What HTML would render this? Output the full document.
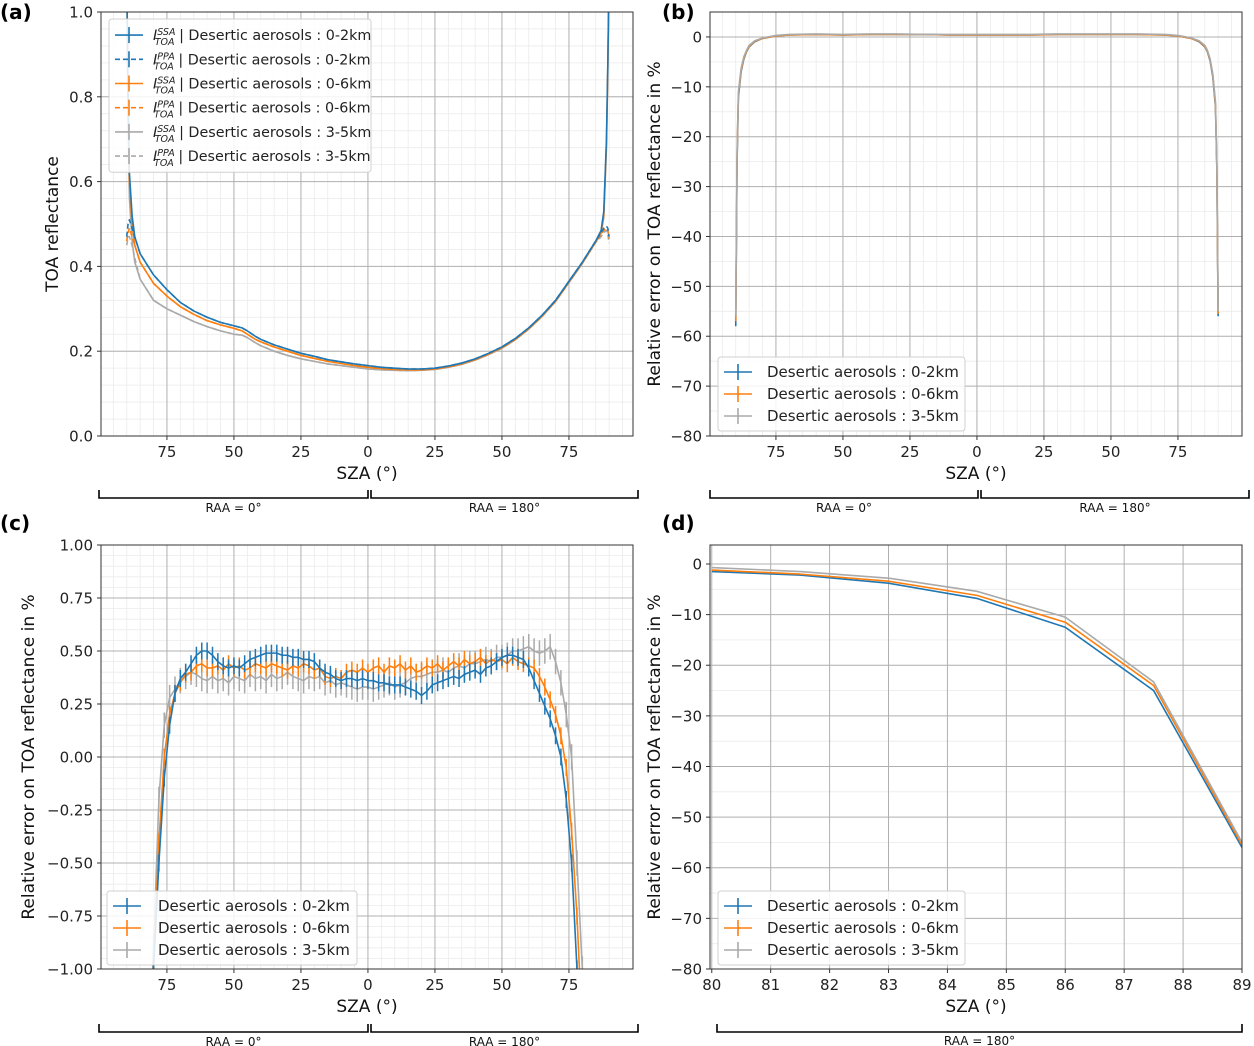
<!DOCTYPE html>
<html><head><meta charset="utf-8"><style>
body{margin:0;background:#fff;overflow:hidden}
svg{display:block;font-family:"DejaVu Sans","Liberation Sans",sans-serif}
</style></head><body>
<svg id="fig" width="1254" height="1046" viewBox="0 0 1254 1046"></svg>
<script>
// ---------- data ----------
const aSza = [-90,-89.5,-89,-88,-87,-85,-82,-80,-75,-70,-65,-60,-55,-50,-47,-45,-42,-40,-35,-30,-25,-20,-15,-10,-5,0,5,10,15,20,25,30,35,40,45,50,55,60,65,70,75,80,83,85,87,88,89,89.5,90];
const aSsa02 = [1.10,0.80,0.62,0.52,0.47,0.43,0.40,0.38,0.345,0.315,0.295,0.28,0.268,0.26,0.255,0.248,0.235,0.228,0.215,0.205,0.195,0.188,0.18,0.175,0.17,0.166,0.162,0.16,0.158,0.158,0.16,0.165,0.172,0.182,0.195,0.21,0.23,0.255,0.285,0.32,0.365,0.41,0.44,0.46,0.485,0.53,0.70,0.88,1.10];
const aPpa02 = [0.47,0.50,0.51,0.49,0.47,0.43,0.40,0.38,0.345,0.315,0.295,0.28,0.268,0.26,0.255,0.248,0.235,0.228,0.215,0.205,0.195,0.188,0.18,0.175,0.17,0.166,0.162,0.16,0.158,0.158,0.16,0.165,0.172,0.182,0.195,0.21,0.23,0.255,0.285,0.32,0.365,0.41,0.44,0.46,0.48,0.49,0.495,0.49,0.47];
const aSsa06 = [1.10,0.78,0.60,0.50,0.45,0.41,0.38,0.36,0.33,0.305,0.287,0.272,0.262,0.254,0.248,0.24,0.228,0.222,0.21,0.2,0.19,0.183,0.176,0.171,0.166,0.162,0.159,0.157,0.156,0.156,0.158,0.163,0.17,0.18,0.193,0.208,0.228,0.253,0.283,0.318,0.363,0.408,0.438,0.458,0.48,0.52,0.69,0.87,1.10];
const aPpa06 = [0.46,0.48,0.49,0.47,0.45,0.41,0.38,0.36,0.33,0.305,0.287,0.272,0.262,0.254,0.248,0.24,0.228,0.222,0.21,0.2,0.19,0.183,0.176,0.171,0.166,0.162,0.159,0.157,0.156,0.156,0.158,0.163,0.17,0.18,0.193,0.208,0.228,0.253,0.283,0.318,0.363,0.408,0.438,0.458,0.475,0.485,0.49,0.485,0.465];
const aSsa35 = [1.10,0.75,0.56,0.46,0.41,0.37,0.34,0.32,0.3,0.285,0.27,0.258,0.248,0.24,0.238,0.232,0.22,0.213,0.2,0.19,0.182,0.176,0.17,0.166,0.162,0.158,0.156,0.155,0.154,0.155,0.157,0.162,0.169,0.179,0.192,0.207,0.227,0.252,0.282,0.317,0.362,0.407,0.437,0.457,0.478,0.515,0.68,0.86,1.10];
const aPpa35 = [0.45,0.47,0.47,0.45,0.42,0.37,0.34,0.32,0.3,0.285,0.27,0.258,0.248,0.24,0.238,0.232,0.22,0.213,0.2,0.19,0.182,0.176,0.17,0.166,0.162,0.158,0.156,0.155,0.154,0.155,0.157,0.162,0.169,0.179,0.192,0.207,0.227,0.252,0.282,0.317,0.362,0.407,0.437,0.457,0.47,0.48,0.485,0.475,0.455];

const bSza = [-90,-89.5,-89,-88,-87,-86,-85,-83,-80,-77,-75,-70,-60,-50,-40,-30,-20,-10,0,10,20,30,40,50,60,70,75,77,80,83,85,86,87,88,89,89.5,90];
const b02 = [-58,-25,-12,-7,-4.5,-3,-2,-1,-0.3,0,0.2,0.4,0.5,0.4,0.5,0.5,0.5,0.4,0.4,0.4,0.4,0.5,0.5,0.5,0.5,0.4,0.2,0,-0.3,-1,-2,-3,-4.8,-8,-14,-26,-56];
const b06 = [-57,-24,-11.5,-6.7,-4.3,-2.9,-1.9,-0.9,-0.3,0,0.2,0.4,0.5,0.4,0.5,0.5,0.5,0.4,0.4,0.4,0.4,0.5,0.5,0.5,0.5,0.4,0.2,0,-0.3,-0.9,-1.9,-2.9,-4.6,-7.7,-13.5,-25.5,-55.5];
const b35 = [-56,-23,-11,-6.3,-4,-2.7,-1.7,-0.8,-0.2,0.1,0.3,0.5,0.6,0.5,0.6,0.6,0.5,0.5,0.5,0.5,0.5,0.6,0.6,0.6,0.6,0.5,0.3,0.1,-0.2,-0.8,-1.7,-2.7,-4.4,-7.4,-13,-25,-55];

const cSza = [-82,-80,-78,-76,-74,-72,-70,-68,-66,-64,-62,-60,-58,-56,-54,-52,-50,-48,-46,-44,-42,-40,-38,-36,-34,-32,-30,-28,-26,-24,-22,-20,-18,-16,-14,-12,-10,-8,-6,-4,-2,0,2,4,6,8,10,12,14,16,18,20,22,24,26,28,30,32,34,36,38,40,42,44,46,48,50,52,54,56,58,60,62,64,66,68,70,72,74,76,78,80];
const c02 = [-1.6,-1.0,-0.5,-0.1,0.15,0.3,0.37,0.4,0.44,0.48,0.5,0.5,0.48,0.45,0.43,0.42,0.43,0.42,0.44,0.46,0.47,0.48,0.49,0.49,0.49,0.48,0.48,0.47,0.47,0.46,0.46,0.45,0.42,0.4,0.39,0.37,0.36,0.37,0.37,0.36,0.37,0.36,0.36,0.35,0.35,0.34,0.34,0.34,0.33,0.32,0.31,0.29,0.31,0.34,0.35,0.36,0.37,0.38,0.37,0.39,0.4,0.41,0.39,0.42,0.43,0.45,0.47,0.48,0.48,0.47,0.46,0.42,0.36,0.3,0.24,0.18,0.1,0.0,-0.2,-0.5,-1.0,-1.6];
const c06 = [-1.6,-1.0,-0.4,0.0,0.2,0.3,0.35,0.39,0.4,0.43,0.44,0.42,0.42,0.43,0.41,0.44,0.42,0.43,0.41,0.42,0.44,0.43,0.42,0.44,0.43,0.42,0.41,0.43,0.42,0.44,0.43,0.41,0.42,0.38,0.37,0.38,0.37,0.4,0.41,0.4,0.42,0.4,0.42,0.43,0.4,0.43,0.42,0.44,0.41,0.43,0.4,0.41,0.43,0.42,0.44,0.41,0.43,0.45,0.43,0.46,0.44,0.45,0.47,0.44,0.46,0.45,0.46,0.44,0.47,0.45,0.44,0.43,0.42,0.38,0.33,0.27,0.2,0.1,-0.05,-0.35,-0.75,-1.3];
const c35 = [-1.5,-0.9,-0.2,0.15,0.28,0.32,0.36,0.38,0.4,0.39,0.37,0.36,0.38,0.36,0.37,0.35,0.38,0.37,0.36,0.39,0.37,0.38,0.36,0.39,0.37,0.38,0.4,0.38,0.37,0.36,0.38,0.37,0.38,0.35,0.36,0.34,0.35,0.34,0.33,0.32,0.33,0.33,0.32,0.33,0.34,0.35,0.33,0.34,0.35,0.37,0.38,0.38,0.39,0.4,0.4,0.41,0.4,0.42,0.43,0.42,0.44,0.44,0.45,0.46,0.45,0.47,0.47,0.48,0.5,0.5,0.51,0.52,0.5,0.49,0.5,0.52,0.45,0.35,0.2,0.0,-0.5,-1.0];
const cErr02 = 0.04;
const cErr06 = 0.04;
const cErr35 = 0.06;

const dSza = [80,81.5,83,84.5,86,87.5,89];
const d02 = [-1.5,-2.2,-3.8,-6.8,-12.5,-25,-56];
const d06 = [-1.2,-2.0,-3.4,-6.2,-11.5,-24,-55.5];
const d35 = [-0.7,-1.5,-2.8,-5.4,-10.5,-23.3,-55];

const BLUE='#1f77b4', ORANGE='#ff7f0e', GRAY='#aaaaaa';
const NS='http://www.w3.org/2000/svg';
const svg=document.getElementById('fig');
function mk(tag,attrs,parent,text){const e=document.createElementNS(NS,tag);for(const k in attrs)e.setAttribute(k,attrs[k]);if(text!==undefined)e.textContent=text;(parent||svg).appendChild(e);return e;}

function panel(o){
  const g=mk('g',{});
  
  
  const sx=v=>o.x0+(v-o.xmin)/(o.xmax-o.xmin)*(o.x1-o.x0);
  const sy=v=>o.y1-(v-o.ymin)/(o.ymax-o.ymin)*(o.y1-o.y0);
  const grid=mk('g',{},g);
  
  
  if(o.xminor){for(let v=Math.ceil(o.xmin/o.xminor)*o.xminor;v<=o.xmax+1e-9;v+=o.xminor){const X=sx(v);mk('line',{x1:X,x2:X,y1:o.y0,y2:o.y1,stroke:'#ebebeb','stroke-width':0.8},grid);}}
  if(o.yminor){for(let v=Math.ceil(o.ymin/o.yminor)*o.yminor;v<=o.ymax+1e-9;v+=o.yminor){const Y=sy(v);mk('line',{x1:o.x0,x2:o.x1,y1:Y,y2:Y,stroke:'#ebebeb','stroke-width':0.8},grid);}}
  o.xticks.forEach(v=>{const X=sx(v);mk('line',{x1:X,x2:X,y1:o.y0,y2:o.y1,stroke:'#b0b0b0','stroke-width':1},grid);});
  o.yticks.forEach(v=>{const Y=sy(v);mk('line',{x1:o.x0,x2:o.x1,y1:Y,y2:Y,stroke:'#b0b0b0','stroke-width':1},grid);});
  o.xticks.forEach((v,i)=>{const X=sx(v);mk('line',{x1:X,x2:X,y1:o.y1,y2:o.y1+4,stroke:'#333','stroke-width':1},g);
    const t=mk('text',{x:X,y:o.y1+21,'text-anchor':'middle','font-size':15,fill:'#222'},g,o.xlabels[i]);
    
    });
  o.yticks.forEach((v,i)=>{const Y=sy(v);mk('line',{x1:o.x0-4,x2:o.x0,y1:Y,y2:Y,stroke:'#333','stroke-width':1},g);
    const t=mk('text',{x:o.x0-8,y:Y+5.5,'text-anchor':'end','font-size':15,fill:'#222'},g,o.ylabels[i]);
    
    });
  const xt=mk('text',{x:(o.x0+o.x1)/2,y:o.y1+43,'text-anchor':'middle','font-size':17,fill:'#111'},g,'SZA (°)');
  
  
  const yx=o.ytx, yy=(o.y0+o.y1)/2;
  const yt=mk('text',{x:yx,y:yy,'text-anchor':'middle','font-size':17,fill:'#111',transform:`rotate(-90 ${yx} ${yy})`},g,o.ytitle);
  
  
  const pl=mk('text',{x:o.lx,y:o.ly,'font-size':20,'font-weight':'bold',fill:'#000'},g,o.label);
  
  
  const clipId='clip-'+o.name;
  const cp=mk('clipPath',{id:clipId},g);mk('rect',{x:o.x0,y:o.y0,width:o.x1-o.x0,height:o.y1-o.y0},cp);
  const plot=mk('g',{'clip-path':`url(#${clipId})`},g);
  o.g=g;o.plot=plot;o.sx=sx;o.sy=sy;
  return o;
}
function spines(o){const r=mk('rect',{x:o.x0,y:o.y0,width:o.x1-o.x0,height:o.y1-o.y0,fill:'none',stroke:'#333','stroke-width':1},o.g);
  
  }
function series(o,xs,ys,color,name,dash,width){
  const d=xs.map((x,i)=>(i?'L':'M')+o.sx(x).toFixed(2)+' '+o.sy(ys[i]).toFixed(2)).join(' ');
  const p=mk('path',{d:d,fill:'none',stroke:color,'stroke-width':width||1.6,'stroke-dasharray':dash||'none','stroke-linejoin':'round'},o.plot);
  
  
  return p;
}
function errbars(o,xs,ys,err,color,name){
  const g=mk('g',{},o.plot);
  
  
  xs.forEach((x,i)=>{const X=o.sx(x);mk('line',{x1:X,x2:X,y1:o.sy(ys[i]-err),y2:o.sy(ys[i]+err),stroke:color,'stroke-width':1.5},g);});
}
function legend(x,y,w,entries,name,fs,rowH,textX){
  const g=mk('g',{});
  
  
  mk('rect',{x:x,y:y,width:w,height:entries.length*rowH+8,rx:3,fill:'#fff','fill-opacity':0.85,stroke:'#d0d0d0','stroke-width':1},g);
  entries.forEach((e,i)=>{const cy=y+4+rowH*(i+0.5);
    const eg=mk('g',{},g);
    
    
    mk('line',{x1:x+6,x2:x+34,y1:cy,y2:cy,stroke:e.c,'stroke-width':1.6,'stroke-dasharray':e.dash||'none'},eg);
    mk('line',{x1:x+20,x2:x+20,y1:cy-8,y2:cy+8,stroke:e.c,'stroke-width':1.6},eg);
    const t=mk('text',{x:x+textX,y:cy+5,'font-size':fs,fill:'#222'},eg);
    if(e.sup){mk('tspan',{'font-style':'italic'},t,'I');mk('tspan',{dy:-5,'font-size':9.5,'font-style':'italic'},t,e.sup);
      mk('tspan',{dx:-20,dy:10,'font-size':9.5,'font-style':'italic'},t,'TOA');mk('tspan',{dy:-5},t,' | '+e.t);}
    else t.textContent=e.t;
  });
}
function bracket(x0,xm,x1,y,name){
  const g=mk('g',{});
  
  
  [[x0,xm-1],[xm+2,x1]].forEach((s,i)=>{
    mk('path',{d:`M${s[0]} ${y-8} L${s[0]} ${y} L${s[1]} ${y} L${s[1]} ${y-8}`,fill:'none',stroke:'#000','stroke-width':1.6},g);
    mk('text',{x:(s[0]+s[1])/2,y:y+14,'text-anchor':'middle','font-size':12,fill:'#111'},g,i?'RAA = 180°':'RAA = 0°');
  });
}
function bracketOne(x0,x1,y,name){
  const g=mk('g',{});
  
  
  mk('path',{d:`M${x0} ${y-8} L${x0} ${y} L${x1} ${y} L${x1} ${y-8}`,fill:'none',stroke:'#000','stroke-width':1.6},g);
  mk('text',{x:(x0+x1)/2,y:y+13,'text-anchor':'middle','font-size':12,fill:'#111'},g,'RAA = 180°');
}
const sxt=[-75,-50,-25,0,25,50,75], sxl=['75','50','25','0','25','50','75'];

// (a)
const A=panel({name:'panel-a',label:'(a)',lx:0,ly:19,x0:101,x1:633,y0:12,y1:436,xmin:-99.6,xmax:98.9,ymin:0,ymax:1,
  xticks:sxt,xlabels:sxl,yticks:[0,0.2,0.4,0.6,0.8,1.0],ylabels:['0.0','0.2','0.4','0.6','0.8','1.0'],xminor:5,yminor:0.04,ytx:58,ytitle:'TOA reflectance'});
series(A,aSza,aPpa35,GRAY,'ppa-3-5km','5 3');series(A,aSza,aSsa35,GRAY,'ssa-3-5km');
series(A,aSza,aPpa06,ORANGE,'ppa-0-6km','5 3');series(A,aSza,aSsa06,ORANGE,'ssa-0-6km');
series(A,aSza,aPpa02,BLUE,'ppa-0-2km','5 3');series(A,aSza,aSsa02,BLUE,'ssa-0-2km');
spines(A);
legend(109,19,262,[{c:BLUE,sup:'SSA',t:'Desertic aerosols : 0-2km'},{c:BLUE,dash:'5 3',sup:'PPA',t:'Desertic aerosols : 0-2km'},
  {c:ORANGE,sup:'SSA',t:'Desertic aerosols : 0-6km'},{c:ORANGE,dash:'5 3',sup:'PPA',t:'Desertic aerosols : 0-6km'},
  {c:GRAY,sup:'SSA',t:'Desertic aerosols : 3-5km'},{c:GRAY,dash:'5 3',sup:'PPA',t:'Desertic aerosols : 3-5km'}],'legend-a',14.3,24.2,44);
bracket(99,369,638,498,'raa-bracket-a');

// (b)
const B=panel({name:'panel-b',label:'(b)',lx:662,ly:19,x0:710,x1:1242,y0:12,y1:436,xmin:-99.6,xmax:98.9,ymin:-80,ymax:5,
  xticks:sxt,xlabels:sxl,yticks:[0,-10,-20,-30,-40,-50,-60,-70,-80],ylabels:['0','−10','−20','−30','−40','−50','−60','−70','−80'],xminor:5,yminor:5,ytx:660,ytitle:'Relative error on TOA reflectance in %'});
series(B,bSza,b02,BLUE,'err-0-2km');series(B,bSza,b06,ORANGE,'err-0-6km');series(B,bSza,b35,GRAY,'err-3-5km');
spines(B);
const legE=[{c:BLUE,t:'Desertic aerosols : 0-2km'},{c:ORANGE,t:'Desertic aerosols : 0-6km'},{c:GRAY,t:'Desertic aerosols : 3-5km'}];
legend(718,357,247,legE,'legend-b',15,22,49);
bracket(710,979,1249,498,'raa-bracket-b');

// (c)
const C=panel({name:'panel-c',label:'(c)',lx:0,ly:530,x0:101,x1:633,y0:545,y1:969,xmin:-99.6,xmax:98.9,ymin:-1,ymax:1,
  xticks:sxt,xlabels:sxl,yticks:[1,0.75,0.5,0.25,0,-0.25,-0.5,-0.75,-1],ylabels:['1.00','0.75','0.50','0.25','0.00','−0.25','−0.50','−0.75','−1.00'],xminor:5,yminor:0.05,ytx:34,ytitle:'Relative error on TOA reflectance in %'});
errbars(C,cSza,c35,cErr35,GRAY,'errbars-3-5km');series(C,cSza,c35,GRAY,'rel-err-3-5km');
errbars(C,cSza,c06,cErr06,ORANGE,'errbars-0-6km');series(C,cSza,c06,ORANGE,'rel-err-0-6km');
errbars(C,cSza,c02,cErr02,BLUE,'errbars-0-2km');series(C,cSza,c02,BLUE,'rel-err-0-2km');
spines(C);
legend(107,891,250,legE,'legend-c',15,22,51);
bracket(99,369,638,1032,'raa-bracket-c');

// (d)
const D=panel({name:'panel-d',label:'(d)',lx:662,ly:530,x0:710,x1:1242,y0:545,y1:969,xmin:79.97,xmax:89,ymin:-80,ymax:3.75,
  xticks:[80,81,82,83,84,85,86,87,88,89],xlabels:['80','81','82','83','84','85','86','87','88','89'],yticks:[0,-10,-20,-30,-40,-50,-60,-70,-80],ylabels:['0','−10','−20','−30','−40','−50','−60','−70','−80'],xminor:0,yminor:5,ytx:660,ytitle:'Relative error on TOA reflectance in %'});
series(D,dSza,d02,BLUE,'zoom-0-2km');series(D,dSza,d06,ORANGE,'zoom-0-6km');series(D,dSza,d35,GRAY,'zoom-3-5km');
spines(D);
legend(718,891,247,legE,'legend-d',15,22,49);
bracketOne(717,1242,1032,'raa-bracket-d');
</script>
</body></html>
